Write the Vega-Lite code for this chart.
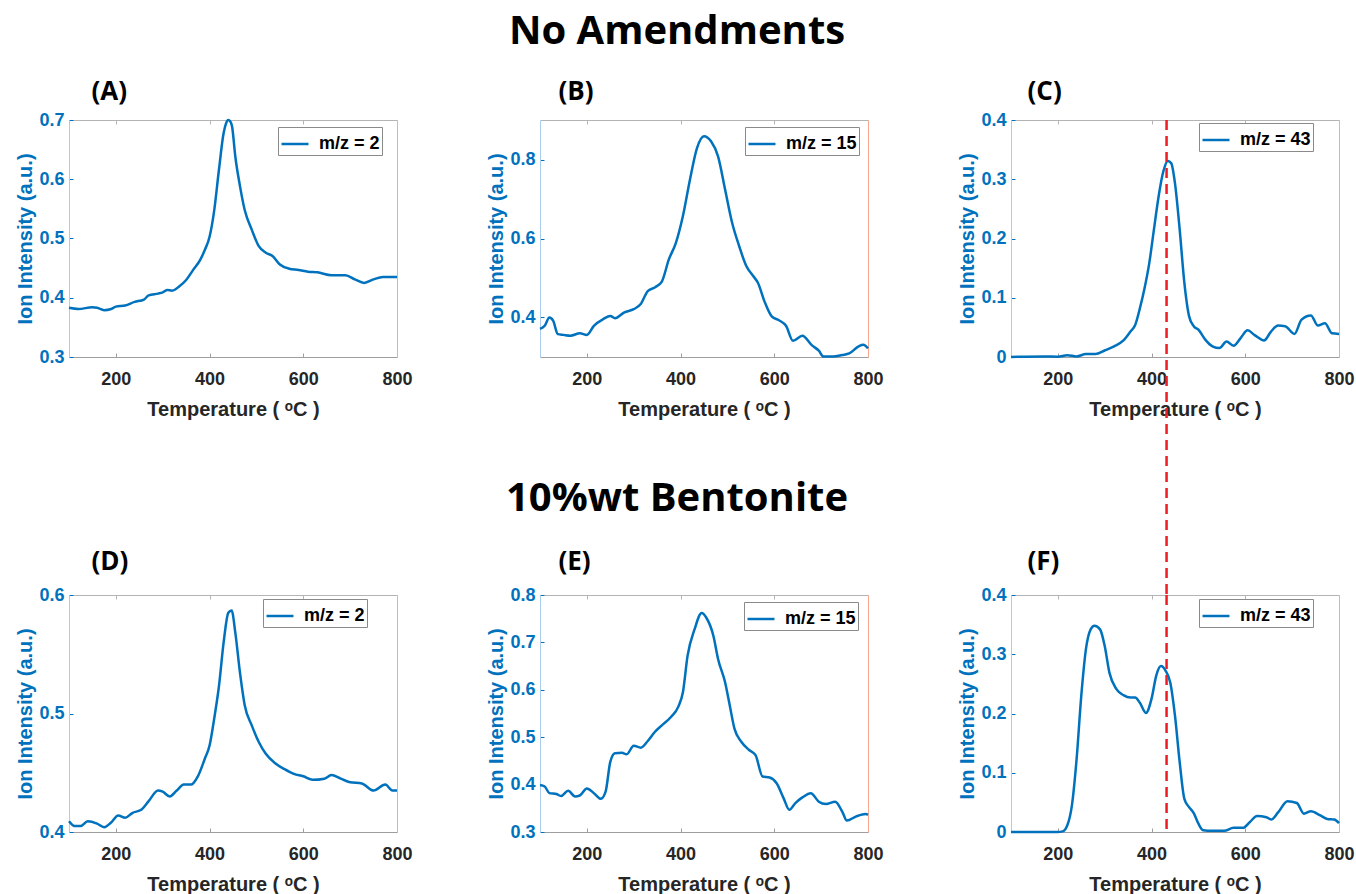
{
  "$schema": "https://vega.github.io/schema/vega-lite/v6.json",
  "padding": {"left": 15, "top": 12, "right": 5, "bottom": 5},
  "bounds": "flush",
  "columns": 3,
  "spacing": {"row": 238, "column": 143},
  "resolve": {"scale": {"color": "independent"}, "legend": {"color": "independent"}},
  "config": {
    "view": {"stroke": null},
    "axis": {"labelFont": "Liberation Sans", "labelFontWeight": "bold", "labelFontSize": 18, "titleFont": "Liberation Sans", "titleFontWeight": "bold", "titleFontSize": 20, "grid": false},
    "axisX": {"labelFlush": false},
    "legend": {"title": null, "symbolType": "stroke", "symbolSize": 729, "symbolStrokeWidth": 2.5, "labelFont": "Liberation Sans", "labelFontWeight": "bold", "labelFontSize": 18, "labelColor": "black", "labelOffset": 9, "padding": 2, "strokeColor": "#8a8a8a", "fillColor": "white"},
    "title": {"font": "Open Sans", "fontSize": 40, "fontWeight": "bold", "color": "black", "anchor": "middle", "frame": "group"}
  },
  "concat": [
    {
      "width": 328, "height": 237,
      "data": {"values": [
        {"T":100,"v":0.383},{"T":120,"v":0.381},{"T":150,"v":0.384},{"T":160,"v":0.383},{"T":175,"v":0.379},{"T":190,"v":0.381},{"T":200,"v":0.385},{"T":220,"v":0.387},{"T":240,"v":0.393},{"T":260,"v":0.397},{"T":270,"v":0.404},{"T":290,"v":0.407},{"T":300,"v":0.409},{"T":310,"v":0.413},{"T":320,"v":0.412},{"T":335,"v":0.419},{"T":350,"v":0.430},{"T":365,"v":0.447},{"T":380,"v":0.464},{"T":390,"v":0.481},{"T":400,"v":0.503},{"T":410,"v":0.548},{"T":420,"v":0.616},{"T":430,"v":0.678},{"T":435,"v":0.694},{"T":440,"v":0.700},{"T":444,"v":0.698},{"T":448,"v":0.689},{"T":455,"v":0.638},{"T":465,"v":0.588},{"T":475,"v":0.548},{"T":490,"v":0.515},{"T":505,"v":0.487},{"T":520,"v":0.476},{"T":535,"v":0.470},{"T":550,"v":0.456},{"T":570,"v":0.449},{"T":590,"v":0.447},{"T":610,"v":0.444},{"T":630,"v":0.443},{"T":660,"v":0.438},{"T":690,"v":0.438},{"T":710,"v":0.431},{"T":730,"v":0.425},{"T":750,"v":0.431},{"T":770,"v":0.435},{"T":800,"v":0.435}
      ]},
      "layer": [
        {"mark": {"type": "line", "strokeWidth": 2.5, "interpolate": "monotone"},
         "encoding": {
           "x": {"field": "T", "type": "quantitative", "scale": {"domain": [100, 800], "nice": false}, "axis": {"values": [200,400,600,800], "title": "Temperature ( ᵒC )", "domainColor": "#9e9e9e", "tickColor": "#9e9e9e", "tickSize": -4, "labelPadding": 17, "titlePadding": 11, "labelColor": "#262626", "titleColor": "#262626"}},
           "y": {"field": "v", "type": "quantitative", "scale": {"domain": [0.3, 0.7], "nice": false, "zero": false}, "axis": {"values": [0.3,0.4,0.5,0.6,0.7], "format": ".1~f", "title": "Ion Intensity (a.u.)", "domainColor": "#a9cdee", "tickColor": "#0072bd", "tickSize": -4, "labelColor": "#0072bd", "titleColor": "#0072bd", "labelPadding": 9, "titlePadding": 3}},
           "color": {"datum": "m/z = 2", "type": "nominal", "scale": {"range": ["#0072bd"]}, "legend": {"orient": "none", "legendX": 209, "legendY": 7}}
         }},
        {"mark": {"type": "line", "opacity": 0},
         "encoding": {
           "x": {"field": "T", "type": "quantitative", "scale": {"domain": [100, 800], "nice": false}, "axis": {"orient": "top", "labels": false, "values": [200,400,600,800], "tickSize": -4, "domainColor": "#b4b4b4", "tickColor": "#b4b4b4", "title": "(A)", "titleFont": "Open Sans", "titleFontSize": 26, "titleFontWeight": "bold", "titleColor": "black", "titleAlign": "left", "titleBaseline": "alphabetic", "titleX": 22, "titleY": -21, "titleAngle": 0}},
           "y": {"field": "v", "type": "quantitative", "scale": {"domain": [0.3, 0.7], "nice": false, "zero": false}, "axis": {"orient": "right", "labels": false, "ticks": false, "domainColor": "#f8a98f", "title": null}}
         }}
      ],
      "resolve": {"axis": {"x": "independent", "y": "independent"}}
    },
    {
      "width": 328, "height": 237,
      "title": {"text": "No Amendments", "dx": -27, "offset": 26},
      "data": {"values": [
        {"T":100,"v":0.371},{"T":110,"v":0.379},{"T":120,"v":0.400},{"T":128,"v":0.392},{"T":138,"v":0.358},{"T":150,"v":0.356},{"T":165,"v":0.354},{"T":185,"v":0.360},{"T":200,"v":0.356},{"T":215,"v":0.379},{"T":235,"v":0.396},{"T":250,"v":0.404},{"T":260,"v":0.398},{"T":280,"v":0.413},{"T":300,"v":0.421},{"T":315,"v":0.434},{"T":330,"v":0.467},{"T":345,"v":0.476},{"T":360,"v":0.491},{"T":375,"v":0.547},{"T":390,"v":0.589},{"T":405,"v":0.657},{"T":420,"v":0.749},{"T":435,"v":0.829},{"T":450,"v":0.859},{"T":465,"v":0.846},{"T":480,"v":0.808},{"T":495,"v":0.724},{"T":510,"v":0.640},{"T":525,"v":0.581},{"T":540,"v":0.531},{"T":555,"v":0.505},{"T":565,"v":0.488},{"T":580,"v":0.438},{"T":595,"v":0.402},{"T":610,"v":0.393},{"T":625,"v":0.379},{"T":640,"v":0.341},{"T":660,"v":0.354},{"T":680,"v":0.330},{"T":695,"v":0.316},{"T":705,"v":0.301},{"T":725,"v":0.301},{"T":745,"v":0.305},{"T":760,"v":0.309},{"T":780,"v":0.327},{"T":790,"v":0.331},{"T":800,"v":0.322}
      ]},
      "layer": [
        {"mark": {"type": "line", "strokeWidth": 2.5, "interpolate": "monotone"},
         "encoding": {
           "x": {"field": "T", "type": "quantitative", "scale": {"domain": [100, 800], "nice": false}, "axis": {"values": [200,400,600,800], "title": "Temperature ( ᵒC )", "domainColor": "#9e9e9e", "tickColor": "#9e9e9e", "tickSize": -4, "labelPadding": 17, "titlePadding": 11, "labelColor": "#262626", "titleColor": "#262626"}},
           "y": {"field": "v", "type": "quantitative", "scale": {"domain": [0.3, 0.9], "nice": false, "zero": false}, "axis": {"values": [0.4,0.6,0.8], "format": ".1~f", "title": "Ion Intensity (a.u.)", "domainColor": "#a9cdee", "tickColor": "#0072bd", "tickSize": -4, "labelColor": "#0072bd", "titleColor": "#0072bd", "labelPadding": 9, "titlePadding": 3}},
           "color": {"datum": "m/z = 15", "type": "nominal", "scale": {"range": ["#0072bd"]}, "legend": {"orient": "none", "legendX": 205, "legendY": 7}}
         }},
        {"mark": {"type": "line", "opacity": 0},
         "encoding": {
           "x": {"field": "T", "type": "quantitative", "scale": {"domain": [100, 800], "nice": false}, "axis": {"orient": "top", "labels": false, "values": [200,400,600,800], "tickSize": -4, "domainColor": "#b4b4b4", "tickColor": "#b4b4b4", "title": "(B)", "titleFont": "Open Sans", "titleFontSize": 26, "titleFontWeight": "bold", "titleColor": "black", "titleAlign": "left", "titleBaseline": "alphabetic", "titleX": 18, "titleY": -21, "titleAngle": 0}},
           "y": {"field": "v", "type": "quantitative", "scale": {"domain": [0.3, 0.9], "nice": false, "zero": false}, "axis": {"orient": "right", "labels": false, "ticks": false, "domainColor": "#f8a98f", "title": null}}
         }}
      ],
      "resolve": {"axis": {"x": "independent", "y": "independent"}}
    },
    {
      "width": 328, "height": 237,
      "data": {"values": [
        {"T":100,"v":0},{"T":170,"v":0.001},{"T":200,"v":0.0005},{"T":220,"v":0.003},{"T":240,"v":0.001},{"T":260,"v":0.005},{"T":280,"v":0.005},{"T":300,"v":0.011},{"T":320,"v":0.018},{"T":340,"v":0.028},{"T":355,"v":0.043},{"T":365,"v":0.054},{"T":375,"v":0.082},{"T":385,"v":0.116},{"T":395,"v":0.158},{"T":405,"v":0.215},{"T":415,"v":0.271},{"T":425,"v":0.313},{"T":435,"v":0.331},{"T":442,"v":0.327},{"T":450,"v":0.293},{"T":460,"v":0.215},{"T":470,"v":0.125},{"T":480,"v":0.069},{"T":490,"v":0.052},{"T":500,"v":0.046},{"T":515,"v":0.029},{"T":530,"v":0.018},{"T":545,"v":0.015},{"T":560,"v":0.026},{"T":575,"v":0.019},{"T":590,"v":0.032},{"T":605,"v":0.045},{"T":620,"v":0.037},{"T":640,"v":0.028},{"T":655,"v":0.043},{"T":670,"v":0.053},{"T":685,"v":0.052},{"T":705,"v":0.039},{"T":720,"v":0.063},{"T":740,"v":0.070},{"T":755,"v":0.053},{"T":770,"v":0.057},{"T":785,"v":0.040},{"T":800,"v":0.039}
      ]},
      "layer": [
        {"mark": {"type": "line", "strokeWidth": 2.5, "interpolate": "monotone"},
         "encoding": {
           "x": {"field": "T", "type": "quantitative", "scale": {"domain": [100, 800], "nice": false}, "axis": {"values": [200,400,600,800], "title": "Temperature ( ᵒC )", "domainColor": "#9e9e9e", "tickColor": "#9e9e9e", "tickSize": -4, "labelPadding": 17, "titlePadding": 11, "labelColor": "#262626", "titleColor": "#262626"}},
           "y": {"field": "v", "type": "quantitative", "scale": {"domain": [0, 0.4], "nice": false, "zero": false}, "axis": {"values": [0,0.1,0.2,0.3,0.4], "format": ".1~f", "title": "Ion Intensity (a.u.)", "domainColor": "#a9cdee", "tickColor": "#0072bd", "tickSize": -4, "labelColor": "#0072bd", "titleColor": "#0072bd", "labelPadding": 9, "titlePadding": 3}},
           "color": {"datum": "m/z = 43", "type": "nominal", "scale": {"range": ["#0072bd"]}, "legend": {"orient": "none", "legendX": 188, "legendY": 3}}
         }},
        {"mark": {"type": "line", "opacity": 0},
         "encoding": {
           "x": {"field": "T", "type": "quantitative", "scale": {"domain": [100, 800], "nice": false}, "axis": {"orient": "top", "labels": false, "values": [200,400,600,800], "tickSize": -4, "domainColor": "#b4b4b4", "tickColor": "#b4b4b4", "title": "(C)", "titleFont": "Open Sans", "titleFontSize": 26, "titleFontWeight": "bold", "titleColor": "black", "titleAlign": "left", "titleBaseline": "alphabetic", "titleX": 16, "titleY": -21, "titleAngle": 0}},
           "y": {"field": "v", "type": "quantitative", "scale": {"domain": [0, 0.4], "nice": false, "zero": false}, "axis": {"orient": "right", "labels": false, "ticks": false, "domainColor": "#f8a98f", "title": null}}
         }},
        {"data": {"values": [{"T": 432}]},
         "mark": {"type": "rule", "color": "#ee1c25", "strokeWidth": 2.5, "strokeDash": [10, 6], "clip": false},
         "encoding": {
           "x": {"field": "T", "type": "quantitative", "axis": null},
           "y": {"datum": 0.4, "axis": null},
           "y2": {"datum": -0.402}
         }}
      ],
      "resolve": {"axis": {"x": "independent", "y": "independent"}}
    },
    {
      "width": 328, "height": 237,
      "data": {"values": [
        {"T":100,"v":0.409},{"T":112,"v":0.405},{"T":125,"v":0.405},{"T":140,"v":0.409},{"T":160,"v":0.407},{"T":175,"v":0.404},{"T":190,"v":0.408},{"T":205,"v":0.414},{"T":220,"v":0.412},{"T":235,"v":0.416},{"T":255,"v":0.419},{"T":270,"v":0.426},{"T":290,"v":0.435},{"T":300,"v":0.434},{"T":315,"v":0.430},{"T":330,"v":0.435},{"T":345,"v":0.440},{"T":360,"v":0.440},{"T":375,"v":0.447},{"T":390,"v":0.462},{"T":400,"v":0.473},{"T":410,"v":0.496},{"T":420,"v":0.523},{"T":430,"v":0.560},{"T":440,"v":0.585},{"T":447,"v":0.587},{"T":455,"v":0.568},{"T":465,"v":0.534},{"T":475,"v":0.507},{"T":490,"v":0.490},{"T":505,"v":0.476},{"T":520,"v":0.466},{"T":540,"v":0.458},{"T":560,"v":0.453},{"T":580,"v":0.449},{"T":600,"v":0.447},{"T":620,"v":0.444},{"T":645,"v":0.445},{"T":660,"v":0.448},{"T":680,"v":0.445},{"T":700,"v":0.442},{"T":725,"v":0.441},{"T":750,"v":0.435},{"T":775,"v":0.440},{"T":790,"v":0.435},{"T":800,"v":0.435}
      ]},
      "layer": [
        {"mark": {"type": "line", "strokeWidth": 2.5, "interpolate": "monotone"},
         "encoding": {
           "x": {"field": "T", "type": "quantitative", "scale": {"domain": [100, 800], "nice": false}, "axis": {"values": [200,400,600,800], "title": "Temperature ( ᵒC )", "domainColor": "#9e9e9e", "tickColor": "#9e9e9e", "tickSize": -4, "labelPadding": 17, "titlePadding": 11, "labelColor": "#262626", "titleColor": "#262626"}},
           "y": {"field": "v", "type": "quantitative", "scale": {"domain": [0.4, 0.6], "nice": false, "zero": false}, "axis": {"values": [0.4,0.5,0.6], "format": ".1~f", "title": "Ion Intensity (a.u.)", "domainColor": "#a9cdee", "tickColor": "#0072bd", "tickSize": -4, "labelColor": "#0072bd", "titleColor": "#0072bd", "labelPadding": 9, "titlePadding": 3}},
           "color": {"datum": "m/z = 2", "type": "nominal", "scale": {"range": ["#0072bd"]}, "legend": {"orient": "none", "legendX": 194, "legendY": 4}}
         }},
        {"mark": {"type": "line", "opacity": 0},
         "encoding": {
           "x": {"field": "T", "type": "quantitative", "scale": {"domain": [100, 800], "nice": false}, "axis": {"orient": "top", "labels": false, "values": [200,400,600,800], "tickSize": -4, "domainColor": "#b4b4b4", "tickColor": "#b4b4b4", "title": "(D)", "titleFont": "Open Sans", "titleFontSize": 26, "titleFontWeight": "bold", "titleColor": "black", "titleAlign": "left", "titleBaseline": "alphabetic", "titleX": 22, "titleY": -26, "titleAngle": 0}},
           "y": {"field": "v", "type": "quantitative", "scale": {"domain": [0.4, 0.6], "nice": false, "zero": false}, "axis": {"orient": "right", "labels": false, "ticks": false, "domainColor": "#f8a98f", "title": null}}
         }}
      ],
      "resolve": {"axis": {"x": "independent", "y": "independent"}}
    },
    {
      "width": 328, "height": 237,
      "title": {"text": "10%wt Bentonite", "dx": -27, "offset": 29},
      "data": {"values": [
        {"T":100,"v":0.399},{"T":110,"v":0.396},{"T":120,"v":0.382},{"T":135,"v":0.380},{"T":145,"v":0.376},{"T":160,"v":0.387},{"T":175,"v":0.375},{"T":185,"v":0.377},{"T":200,"v":0.392},{"T":215,"v":0.382},{"T":230,"v":0.370},{"T":240,"v":0.385},{"T":250,"v":0.448},{"T":260,"v":0.466},{"T":275,"v":0.467},{"T":285,"v":0.464},{"T":300,"v":0.482},{"T":315,"v":0.478},{"T":330,"v":0.492},{"T":345,"v":0.511},{"T":360,"v":0.525},{"T":380,"v":0.543},{"T":395,"v":0.564},{"T":405,"v":0.595},{"T":415,"v":0.672},{"T":430,"v":0.728},{"T":445,"v":0.762},{"T":455,"v":0.752},{"T":470,"v":0.714},{"T":480,"v":0.665},{"T":495,"v":0.616},{"T":505,"v":0.567},{"T":515,"v":0.518},{"T":530,"v":0.490},{"T":545,"v":0.474},{"T":560,"v":0.462},{"T":575,"v":0.417},{"T":590,"v":0.415},{"T":605,"v":0.403},{"T":620,"v":0.371},{"T":632,"v":0.347},{"T":645,"v":0.361},{"T":660,"v":0.373},{"T":678,"v":0.382},{"T":695,"v":0.364},{"T":710,"v":0.359},{"T":730,"v":0.364},{"T":745,"v":0.343},{"T":755,"v":0.324},{"T":775,"v":0.333},{"T":795,"v":0.338},{"T":800,"v":0.336}
      ]},
      "layer": [
        {"mark": {"type": "line", "strokeWidth": 2.5, "interpolate": "monotone"},
         "encoding": {
           "x": {"field": "T", "type": "quantitative", "scale": {"domain": [100, 800], "nice": false}, "axis": {"values": [200,400,600,800], "title": "Temperature ( ᵒC )", "domainColor": "#9e9e9e", "tickColor": "#9e9e9e", "tickSize": -4, "labelPadding": 17, "titlePadding": 11, "labelColor": "#262626", "titleColor": "#262626"}},
           "y": {"field": "v", "type": "quantitative", "scale": {"domain": [0.3, 0.8], "nice": false, "zero": false}, "axis": {"values": [0.3,0.4,0.5,0.6,0.7,0.8], "format": ".1~f", "title": "Ion Intensity (a.u.)", "domainColor": "#a9cdee", "tickColor": "#0072bd", "tickSize": -4, "labelColor": "#0072bd", "titleColor": "#0072bd", "labelPadding": 9, "titlePadding": 3}},
           "color": {"datum": "m/z = 15", "type": "nominal", "scale": {"range": ["#0072bd"]}, "legend": {"orient": "none", "legendX": 204, "legendY": 7}}
         }},
        {"mark": {"type": "line", "opacity": 0},
         "encoding": {
           "x": {"field": "T", "type": "quantitative", "scale": {"domain": [100, 800], "nice": false}, "axis": {"orient": "top", "labels": false, "values": [200,400,600,800], "tickSize": -4, "domainColor": "#b4b4b4", "tickColor": "#b4b4b4", "title": "(E)", "titleFont": "Open Sans", "titleFontSize": 26, "titleFontWeight": "bold", "titleColor": "black", "titleAlign": "left", "titleBaseline": "alphabetic", "titleX": 18, "titleY": -26, "titleAngle": 0}},
           "y": {"field": "v", "type": "quantitative", "scale": {"domain": [0.3, 0.8], "nice": false, "zero": false}, "axis": {"orient": "right", "labels": false, "ticks": false, "domainColor": "#f8a98f", "title": null}}
         }}
      ],
      "resolve": {"axis": {"x": "independent", "y": "independent"}}
    },
    {
      "width": 328, "height": 237,
      "data": {"values": [
        {"T":100,"v":0},{"T":200,"v":0},{"T":210,"v":0.001},{"T":220,"v":0.011},{"T":230,"v":0.045},{"T":240,"v":0.123},{"T":250,"v":0.230},{"T":260,"v":0.309},{"T":270,"v":0.342},{"T":278,"v":0.348},{"T":290,"v":0.342},{"T":300,"v":0.314},{"T":310,"v":0.269},{"T":325,"v":0.241},{"T":340,"v":0.231},{"T":355,"v":0.227},{"T":365,"v":0.227},{"T":375,"v":0.218},{"T":388,"v":0.201},{"T":400,"v":0.225},{"T":410,"v":0.264},{"T":420,"v":0.280},{"T":430,"v":0.272},{"T":440,"v":0.252},{"T":450,"v":0.196},{"T":460,"v":0.118},{"T":470,"v":0.056},{"T":480,"v":0.042},{"T":490,"v":0.032},{"T":500,"v":0.014},{"T":510,"v":0.003},{"T":530,"v":0.002},{"T":555,"v":0.002},{"T":575,"v":0.007},{"T":595,"v":0.007},{"T":610,"v":0.017},{"T":625,"v":0.027},{"T":645,"v":0.025},{"T":655,"v":0.021},{"T":670,"v":0.033},{"T":690,"v":0.052},{"T":710,"v":0.049},{"T":725,"v":0.031},{"T":740,"v":0.035},{"T":760,"v":0.028},{"T":775,"v":0.022},{"T":790,"v":0.021},{"T":800,"v":0.015}
      ]},
      "layer": [
        {"mark": {"type": "line", "strokeWidth": 2.5, "interpolate": "monotone"},
         "encoding": {
           "x": {"field": "T", "type": "quantitative", "scale": {"domain": [100, 800], "nice": false}, "axis": {"values": [200,400,600,800], "title": "Temperature ( ᵒC )", "domainColor": "#9e9e9e", "tickColor": "#9e9e9e", "tickSize": -4, "labelPadding": 17, "titlePadding": 11, "labelColor": "#262626", "titleColor": "#262626"}},
           "y": {"field": "v", "type": "quantitative", "scale": {"domain": [0, 0.4], "nice": false, "zero": false}, "axis": {"values": [0,0.1,0.2,0.3,0.4], "format": ".1~f", "title": "Ion Intensity (a.u.)", "domainColor": "#a9cdee", "tickColor": "#0072bd", "tickSize": -4, "labelColor": "#0072bd", "titleColor": "#0072bd", "labelPadding": 9, "titlePadding": 3}},
           "color": {"datum": "m/z = 43", "type": "nominal", "scale": {"range": ["#0072bd"]}, "legend": {"orient": "none", "legendX": 188, "legendY": 4}}
         }},
        {"mark": {"type": "line", "opacity": 0},
         "encoding": {
           "x": {"field": "T", "type": "quantitative", "scale": {"domain": [100, 800], "nice": false}, "axis": {"orient": "top", "labels": false, "values": [200,400,600,800], "tickSize": -4, "domainColor": "#b4b4b4", "tickColor": "#b4b4b4", "title": "(F)", "titleFont": "Open Sans", "titleFontSize": 26, "titleFontWeight": "bold", "titleColor": "black", "titleAlign": "left", "titleBaseline": "alphabetic", "titleX": 16, "titleY": -26, "titleAngle": 0}},
           "y": {"field": "v", "type": "quantitative", "scale": {"domain": [0, 0.4], "nice": false, "zero": false}, "axis": {"orient": "right", "labels": false, "ticks": false, "domainColor": "#f8a98f", "title": null}}
         }},
        {"data": {"values": [{"T": 432}]},
         "mark": {"type": "rule", "color": "#ee1c25", "strokeWidth": 2.5, "strokeDash": [10, 6], "clip": false},
         "encoding": {
           "x": {"field": "T", "type": "quantitative", "axis": null},
           "y": {"datum": 0.4, "axis": null},
           "y2": {"datum": 0}
         }}
      ],
      "resolve": {"axis": {"x": "independent", "y": "independent"}}
    }
  ]
}
